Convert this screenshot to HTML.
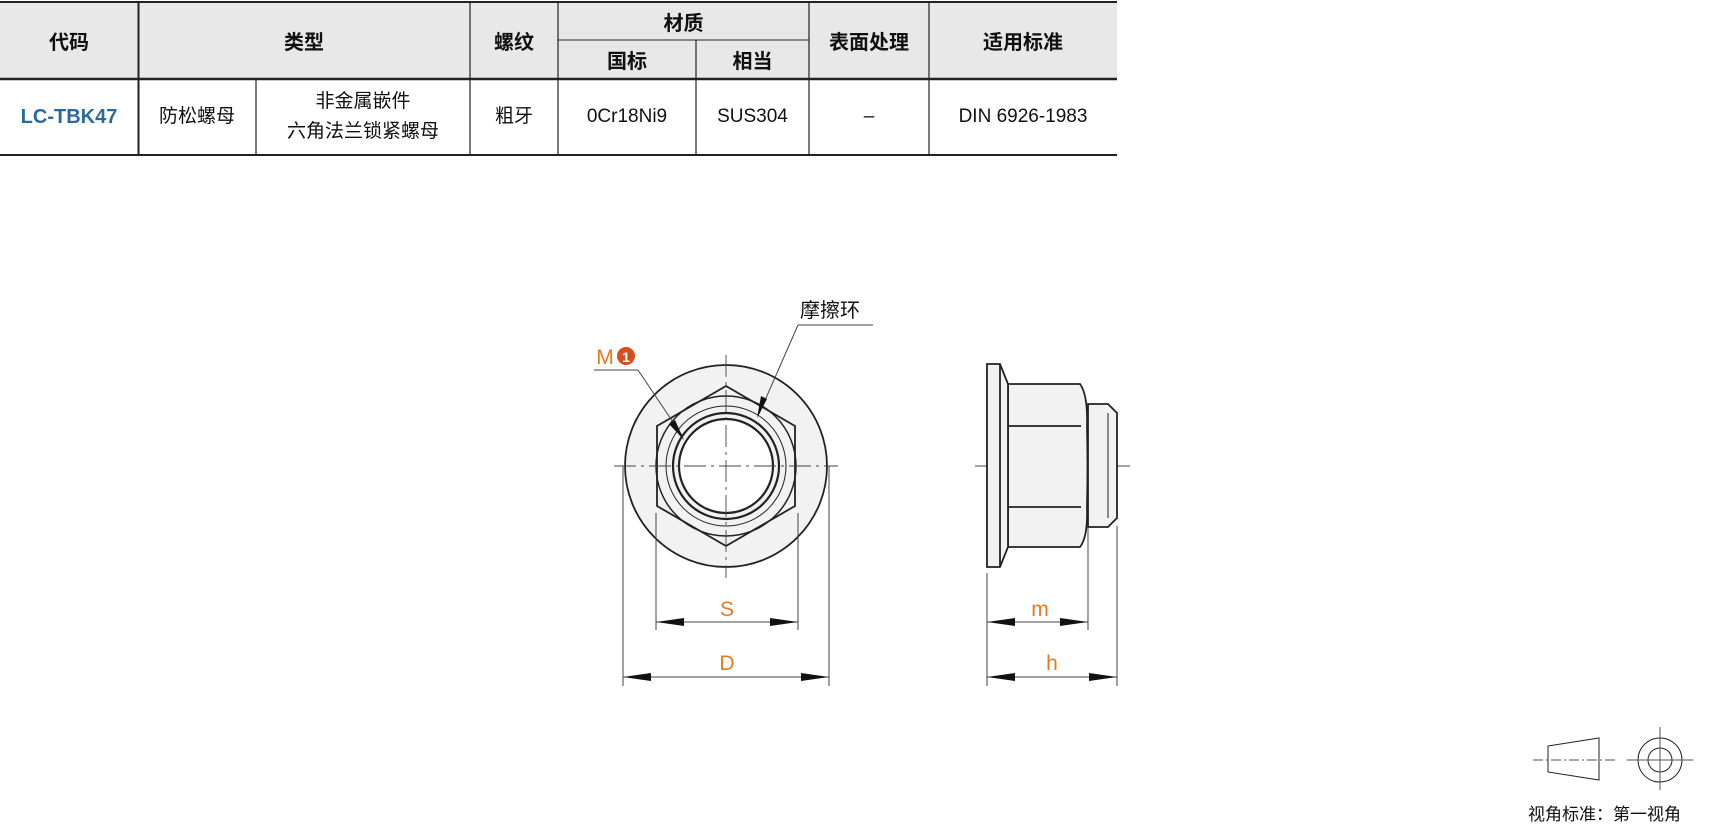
<!DOCTYPE html>
<html><head><meta charset="utf-8"><style>
body{margin:0;background:#fff;width:1711px;height:829px;overflow:hidden;position:relative;font-family:"Liberation Sans","Noto Sans CJK SC",sans-serif;}
.c{position:absolute;display:flex;align-items:center;justify-content:center;text-align:center;color:#111;}
.h{background:#e8e8e8;font-weight:bold;font-size:20px;}
.d{font-size:19px;line-height:30px;}
</style></head><body>
<div style="position:absolute;left:0;top:2px;width:1117px;height:77px;background:#e8e8e8"></div>
<div class="c h" style="left:0;top:2px;width:138px;height:77px">代码</div>
<div class="c h" style="left:138px;top:2px;width:332px;height:77px">类型</div>
<div class="c h" style="left:470px;top:2px;width:88px;height:77px">螺纹</div>
<div class="c h" style="left:558px;top:2px;width:251px;height:38px">材质</div>
<div class="c h" style="left:558px;top:40px;width:138px;height:39px">国标</div>
<div class="c h" style="left:696px;top:40px;width:113px;height:39px">相当</div>
<div class="c h" style="left:809px;top:2px;width:120px;height:77px">表面处理</div>
<div class="c h" style="left:929px;top:2px;width:188px;height:77px">适用标准</div>
<div class="c d" style="left:0;top:79px;width:138px;height:76px;color:#2b6a9c;font-weight:bold;font-size:20px">LC-TBK47</div>
<div class="c d" style="left:138px;top:79px;width:118px;height:76px">防松螺母</div>
<div class="c d" style="left:256px;top:79px;width:214px;height:76px">非金属嵌件<br>六角法兰锁紧螺母</div>
<div class="c d" style="left:470px;top:79px;width:88px;height:76px">粗牙</div>
<div class="c d" style="left:558px;top:79px;width:138px;height:76px">0Cr18Ni9</div>
<div class="c d" style="left:696px;top:79px;width:113px;height:76px">SUS304</div>
<div class="c d" style="left:809px;top:79px;width:120px;height:76px">–</div>
<div class="c d" style="left:929px;top:79px;width:188px;height:76px">DIN 6926-1983</div>
<svg width="1711" height="829" style="position:absolute;left:0;top:0" xmlns="http://www.w3.org/2000/svg">
<g stroke="#222" fill="none">
<line x1="0" y1="2" x2="1117" y2="2" stroke-width="2"/>
<line x1="0" y1="79" x2="1117" y2="79" stroke-width="2.5"/>
<line x1="0" y1="155" x2="1117" y2="155" stroke-width="2"/>
<line x1="558" y1="40" x2="809" y2="40" stroke-width="1"/>
<g stroke-width="1.2">
<line x1="138.5" y1="2" x2="138.5" y2="155" stroke-width="2"/>
<line x1="256" y1="79" x2="256" y2="155"/>
<line x1="470" y1="2" x2="470" y2="155"/>
<line x1="558" y1="2" x2="558" y2="155"/>
<line x1="696" y1="40" x2="696" y2="155"/>
<line x1="809" y1="2" x2="809" y2="155"/>
<line x1="929" y1="2" x2="929" y2="155"/>
</g>
</g>
<g stroke="#222" stroke-width="1.8">
<circle cx="726" cy="466" r="101" fill="#f2f2f2"/>
<polygon points="726,386 795,426 795,506 726,546 657,506 657,426" fill="#f2f2f2"/>
<circle cx="726" cy="466" r="70" fill="none" stroke-width="1.5"/>
<circle cx="726" cy="466" r="60" fill="none" stroke-width="1"/>
<circle cx="726" cy="466" r="53" fill="none" stroke-width="2.2"/>
<circle cx="726" cy="466" r="47" fill="#fff" stroke-width="2.2"/>
</g>
<g stroke="#444" stroke-width="0.9" stroke-dasharray="22,5,3,5">
<line x1="614" y1="466" x2="838" y2="466"/>
<line x1="726" y1="355" x2="726" y2="578"/>
<line x1="975" y1="466" x2="1130" y2="466"/>
</g>
<g stroke="#222" stroke-width="1.8" fill="#f2f2f2">
<path d="M1088,404 H1108 L1117,413 V518 L1108,527 H1088 Z"/>
<path d="M1008,384 H1080 Q1088,395 1087,426 Q1088,466 1087,507 Q1088,537 1080,547 H1008 Z"/>
<line x1="1008" y1="426" x2="1081" y2="426"/>
<line x1="1008" y1="507" x2="1081" y2="507"/>
<path d="M987,364 H1000 L1008,384 V547 L1000,567 H987 Z"/>
<line x1="1000" y1="364" x2="1000" y2="567"/>
<line x1="1108" y1="413" x2="1108" y2="518" stroke-width="1"/>
</g>
<g stroke="#444" stroke-width="1">
<line x1="656" y1="513" x2="656" y2="630"/><line x1="798" y1="513" x2="798" y2="630"/>
<line x1="623" y1="466" x2="623" y2="686"/><line x1="829" y1="466" x2="829" y2="686"/>
<line x1="987" y1="573" x2="987" y2="686"/><line x1="1088" y1="527" x2="1088" y2="630"/>
<line x1="1117" y1="526" x2="1117" y2="686"/>
<line x1="656" y1="622" x2="798" y2="622"/><line x1="623" y1="677" x2="829" y2="677"/>
<line x1="987" y1="622" x2="1088" y2="622"/><line x1="987" y1="677" x2="1117" y2="677"/>
<line x1="594" y1="370" x2="638" y2="370"/><line x1="638" y1="370" x2="683" y2="437"/>
<line x1="798" y1="325" x2="873" y2="325"/><line x1="798" y1="325" x2="759" y2="414"/>
</g>
<g fill="#111">
<path d="M656,622 l28,-4 v8z"/><path d="M798,622 l-28,-4 v8z"/>
<path d="M623,677 l28,-4 v8z"/><path d="M829,677 l-28,-4 v8z"/>
<path d="M987,622 l28,-4 v8z"/><path d="M1088,622 l-28,-4 v8z"/>
<path d="M987,677 l28,-4 v8z"/><path d="M1117,677 l-28,-4 v8z"/>
<path d="M684,440 l-15,-16 l6,-4z"/>
<path d="M757,418 l4,-22 l6,3z"/>
</g>
<g font-family="Liberation Sans,sans-serif" font-size="21" fill="#e87a1e" text-anchor="middle">
<text x="727" y="616">S</text><text x="727" y="670">D</text>
<text x="1040" y="616">m</text><text x="1052" y="670">h</text>
<text x="605" y="364">M</text>
</g>
<circle cx="626" cy="356" r="9" fill="#d4501c"/>
<text x="626" y="362" font-family="Liberation Sans,sans-serif" font-weight="bold" font-size="14" fill="#fff" text-anchor="middle">1</text>
<text x="800" y="317" font-family="Liberation Sans,Noto Sans CJK SC,sans-serif" font-size="20" fill="#111">摩擦环</text>
<g stroke="#222" stroke-width="1" fill="none">
<path d="M1548,746 L1599,738 V780 L1548,772 Z"/>
<circle cx="1660" cy="760" r="22"/><circle cx="1660" cy="760" r="12"/>
<line x1="1533" y1="760" x2="1615" y2="760" stroke-dasharray="10,3,2,3" stroke="#555"/>
<line x1="1627" y1="760" x2="1693" y2="760" stroke="#555"/>
<line x1="1660" y1="727" x2="1660" y2="790" stroke="#555"/>
</g>
<text x="1528" y="820" font-family="Liberation Sans,Noto Sans CJK SC,sans-serif" font-size="17" fill="#111">视角标准：第一视角</text>
</svg>
</body></html>
